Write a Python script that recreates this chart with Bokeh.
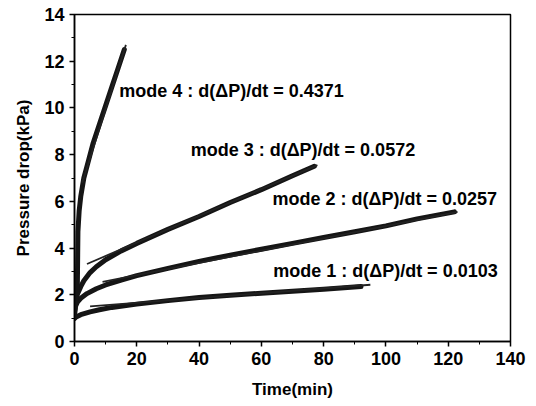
from bokeh.plotting import figure
from bokeh.models import Range1d, FixedTicker
from bokeh.core.properties import value
from bokeh.embed import file_html
from bokeh.resources import INLINE

# measured data (time in min, pressure drop in kPa)
t1 = [0, 0.5, 2, 5, 8, 12, 20, 30, 40, 50, 60, 70, 80, 92]
p1 = [0.98, 1.05, 1.15, 1.27, 1.36, 1.46, 1.6, 1.75, 1.88, 1.98, 2.07, 2.15, 2.24, 2.35]
t2 = [0, 0.3, 1, 2, 4, 7, 10, 15, 20, 30, 40, 50, 60, 70, 80, 90, 100, 110, 122]
p2 = [1.1, 1.5, 1.7, 1.85, 2.05, 2.26, 2.42, 2.63, 2.82, 3.13, 3.43, 3.7, 3.95, 4.2, 4.45, 4.7, 4.95, 5.25, 5.55]
t3 = [0, 0.3, 1, 2, 3, 5, 7, 10, 15, 20, 30, 40, 50, 60, 70, 77]
p3 = [1.2, 1.75, 2.05, 2.35, 2.6, 2.95, 3.2, 3.5, 3.88, 4.2, 4.8, 5.35, 5.95, 6.5, 7.1, 7.5]
t4 = [0, 0.5, 0.9, 1.1, 1.5, 2, 3, 4, 6, 8, 10, 12, 14, 16]
p4 = [1.3, 1.7, 2.2, 4.7, 5.6, 6.2, 7.0, 7.5, 8.5, 9.3, 10.1, 10.9, 11.7, 12.5]

# fitted lines (end points)
f1_t = [5, 95]
f1_p = [1.5, 2.43]
f2_t = [9, 123]
f2_p = [2.55, 5.55]
f3_t = [4, 78]
f3_p = [3.32, 7.55]
f4_t = [2.5, 16.5]
f4_p = [6.8, 12.7]

labels = ["mode 1 : d(\u0394P)/dt = 0.0103",
          "mode 2 : d(\u0394P)/dt = 0.0257",
          "mode 3 : d(\u0394P)/dt = 0.0572",
          "mode 4 : d(\u0394P)/dt = 0.4371"]
label_t = [63.8, 63.6, 37.3, 14.4]
label_p = [3.0, 6.12, 8.18, 10.74]

x_major = [0, 20, 40, 60, 80, 100, 120, 140]
x_minor = [10, 30, 50, 70, 90, 110, 130]
y_major = [0, 2, 4, 6, 8, 10, 12, 14]
y_minor = [1, 3, 5, 7, 9, 11, 13]

p = figure(width=536, height=406, output_backend="svg", toolbar_location=None,
           x_range=Range1d(0, 140), y_range=Range1d(0, 14),
           min_border_left=74, min_border_right=26, min_border_top=14, min_border_bottom=65)
p.grid.visible = False
p.outline_line_color = "black"
p.outline_line_width = 1.5
p.background_fill_color = "white"
p.border_fill_color = "white"

for ax, maj, mnr in ((p.xaxis[0], x_major, x_minor), (p.yaxis[0], y_major, y_minor)):
    ax.ticker = FixedTicker(ticks=maj, minor_ticks=mnr)
    ax.major_label_text_font = "Liberation Sans"
    ax.major_label_text_font_style = "bold"
    ax.major_label_text_font_size = "18px"
    ax.major_label_text_color = "black"
    ax.axis_label_text_font = "Liberation Sans"
    ax.axis_label_text_font_style = "bold"
    ax.axis_label_text_font_size = "17px"
    ax.axis_label_text_color = "black"
    ax.axis_line_width = 1.5
    ax.major_tick_line_width = 1.5
    ax.major_tick_out = 5
    ax.major_tick_in = 0
    ax.minor_tick_out = 3
    ax.minor_tick_in = 0

p.xaxis.axis_label = "Time(min)"
p.yaxis.axis_label = "Pressure drop(kPa)"
p.xaxis.axis_label_standoff = 12
p.yaxis.axis_label_standoff = 8

for tt, pp in ((t1, p1), (t2, p2), (t3, p3), (t4, p4)):
    p.line(tt, pp, line_color="#151515", line_width=5, line_join="round", line_cap="round")
for tt, pp in ((f1_t, f1_p), (f2_t, f2_p), (f3_t, f3_p), (f4_t, f4_p)):
    p.line(tt, pp, line_color="#222222", line_width=1.8)

p.text(x=label_t, y=label_p, text=labels, text_font=value("Liberation Sans"),
       text_font_style="bold", text_font_size="18px", text_baseline="middle",
       text_align="left", text_color="black")

open("out.html", "w").write(file_html(p, INLINE))
